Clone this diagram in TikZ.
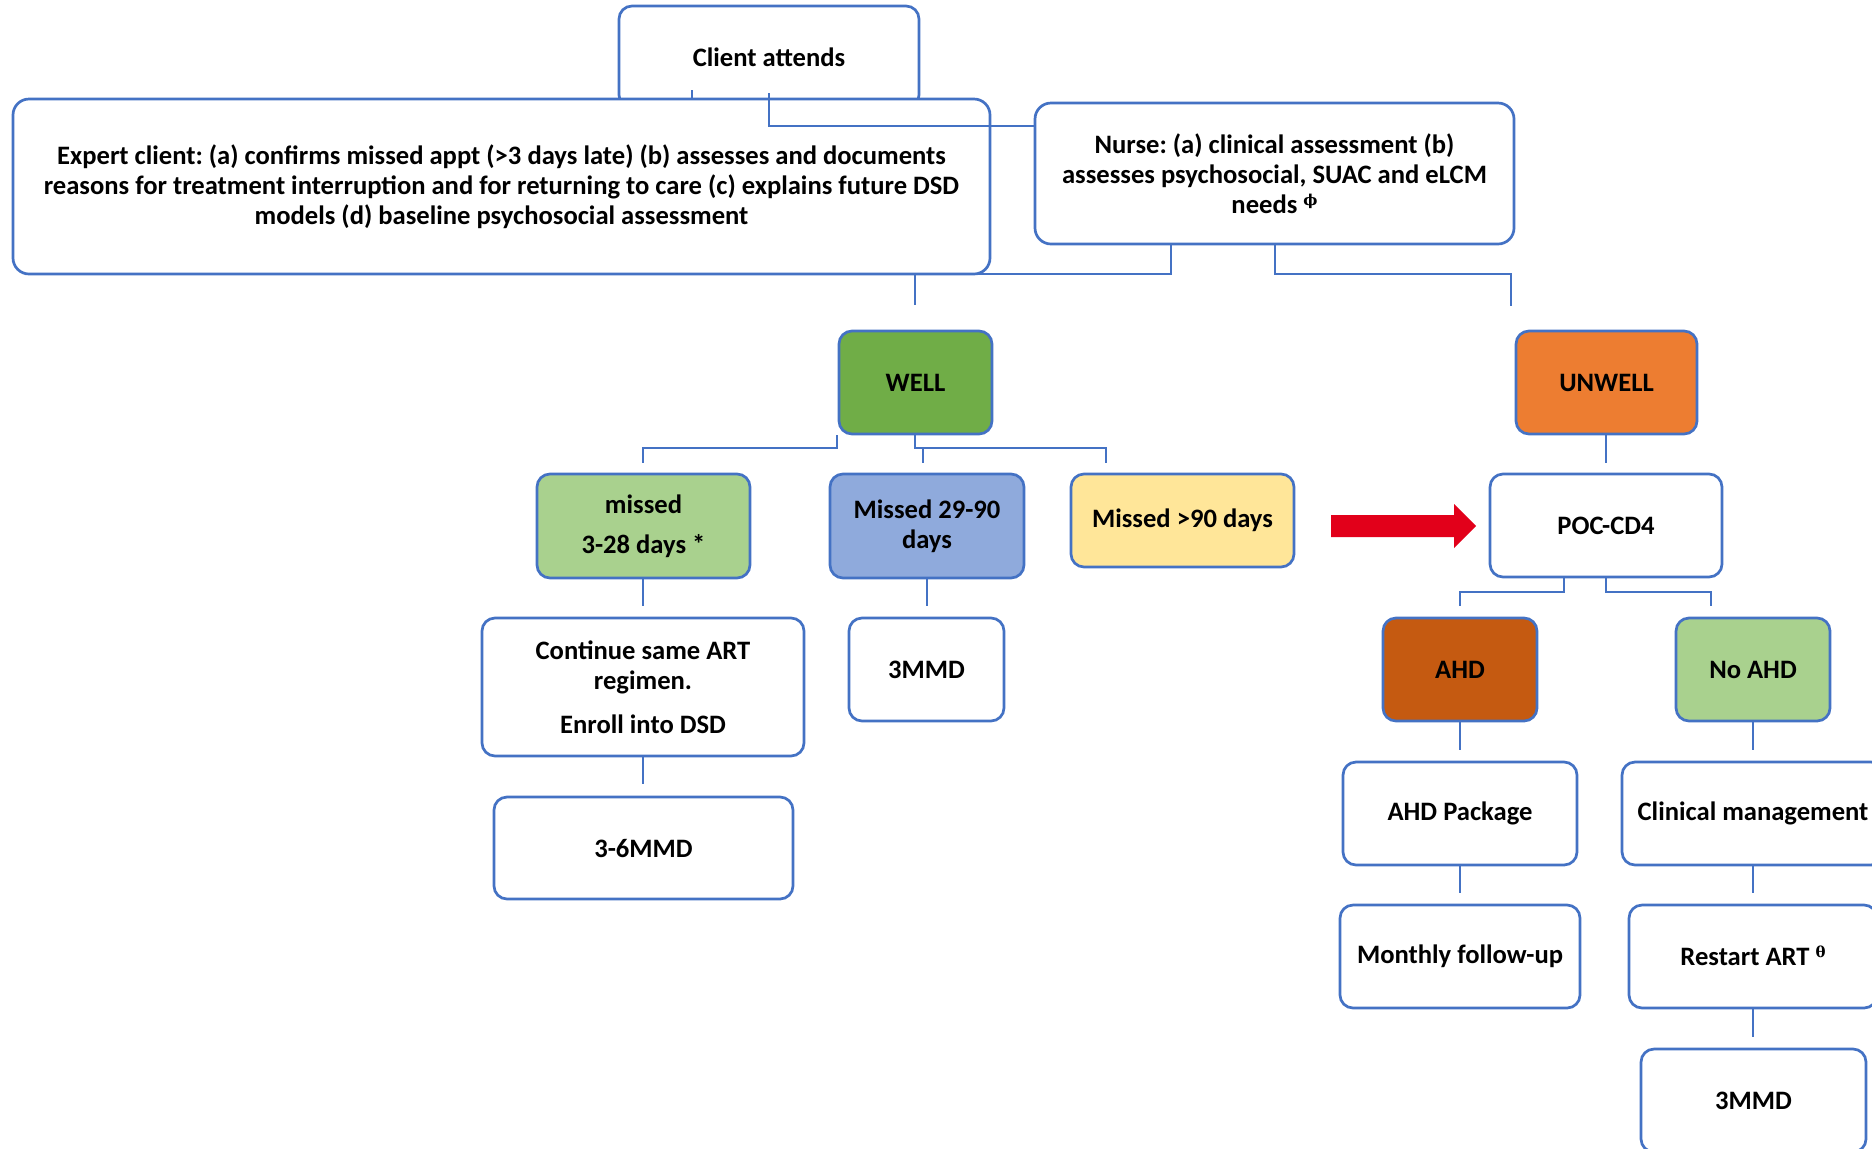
\documentclass[tikz,border=0pt]{standalone}
\usepackage{fontspec}
\setmainfont{Carlito}
\newfontfamily\symserif{DejaVu Serif}
\definecolor{lineblue}{HTML}{4472C4}
\definecolor{wellgreen}{HTML}{70AD47}
\definecolor{unwellorange}{HTML}{ED7D31}
\definecolor{lightgreen}{HTML}{A9D18E}
\definecolor{lightblue}{HTML}{8FAADC}
\definecolor{paleyellow}{HTML}{FFE699}
\definecolor{ahdbrown}{HTML}{C55A11}
\definecolor{arrowred}{HTML}{E2001A}
\newcommand\boxfont{\frenchspacing\fontsize{13.3pt}{15pt}\selectfont\bfseries}
\newcommand\supsym[1]{\smash{\raisebox{0.3em}{\fontsize{7.5pt}{8pt}\selectfont\symserif #1}}}
\tikzset{
  bx/.style={draw=lineblue, line width=1.35pt, rounded corners=6.5pt, fill=white,
    align=center, font=\boxfont, text=black, inner sep=0pt},
  cn/.style={draw=lineblue, line width=1.35pt},
}
\begin{document}
\begin{tikzpicture}[x=0.5pt,y=-0.5pt]
\useasboundingbox (0,0) rectangle (1872,1148);
\clip (0,0) rectangle (1872,1148);

% top boxes
\node[bx, minimum width=150pt, minimum height=51pt] (client) at (769,57) {Client attends};
\node[bx, rounded corners=8pt, minimum width=488.5pt, minimum height=87.5pt] (expert) at (501.5,186.5)
  {Expert client: (a) confirms missed appt (>3 days late) (b) assesses and documents\\
   reasons for treatment interruption and for returning to care (c) explains future DSD\\
   models (d) baseline psychosocial assessment};
\node[bx, rounded corners=8pt, minimum width=239.5pt, minimum height=70.5pt] (nurse) at (1274.5,173.5)
  {Nurse: (a) clinical assessment (b)\\ assesses psychosocial, SUAC and eLCM\\ needs \supsym{ϕ}};

% client connectors
\coordinate (t1) at (692,90);
\draw[cn] (t1) -- (t1 |- expert.north);
\coordinate (c1) at (769,93);
\draw[cn] (c1) -- (769,126) -- (nurse.west |- 0,126);

% level 2
\node[bx, fill=wellgreen, minimum width=76.5pt, minimum height=51.5pt] (well) at (915.5,382.5) {WELL};
\node[bx, fill=unwellorange, minimum width=90.5pt, minimum height=51.5pt] (unwell) at (1606.5,382.5) {UNWELL};

\draw[cn] (nurse.south -| 1171,0) -- (1171,274) -- (915,274) -- (915,305);
\draw[cn] (nurse.south -| 1275,0) -- (1275,274) -- (1511,274) -- (1511,306);

% level 3
\node[bx, fill=lightgreen, minimum width=106.5pt, minimum height=52pt] (missed) at (643.5,526) {missed\\[5pt] 3-28 days *};
\node[bx, fill=lightblue, minimum width=97pt, minimum height=52pt] (m2990) at (927,526) {Missed 29-90\\ days};
\node[bx, fill=paleyellow, minimum width=111.5pt, minimum height=46.5pt] (m90) at (1182.5,520.5) {Missed >90 days};
\node[bx, minimum width=116pt, minimum height=51.5pt] (poc) at (1606,525.5) {POC-CD4};

\draw[cn] (well.south -| 837,0) -- (837,448) -- (643,448) -- (643,463);
\draw[cn] (well.south -| 915,0) -- (915,448) -- (1106,448) -- (1106,463);
\draw[cn] (923,448) -- (923,463);
\draw[cn] (unwell.south -| 1606,0) -- (1606,463);

% red block arrow
\fill[arrowred] (1331,515) -- (1454,515) -- (1454,504) -- (1476,526) -- (1454,548) -- (1454,537) -- (1331,537) -- cycle;

% level 4
\node[bx, minimum width=161pt, minimum height=69pt] (cont) at (643,687) {Continue same ART\\ regimen.\\[7pt] Enroll into DSD};
\node[bx, minimum width=77.5pt, minimum height=51.5pt] (mmd3a) at (926.5,669.5) {3MMD};
\node[bx, fill=ahdbrown, minimum width=77pt, minimum height=51.5pt] (ahd) at (1460,669.5) {AHD};
\node[bx, fill=lightgreen, minimum width=77pt, minimum height=51.5pt] (noahd) at (1753,669.5) {No AHD};

\draw[cn] (missed.south -| 643,0) -- (643,606);
\draw[cn] (m2990.south -| 927,0) -- (927,606);
\draw[cn] (poc.south -| 1564,0) -- (1564,592) -- (1460,592) -- (1460,606);
\draw[cn] (poc.south -| 1606,0) -- (1606,592) -- (1711,592) -- (1711,606);

% level 5+
\node[bx, minimum width=149.5pt, minimum height=51pt] (mmd36) at (643.5,848) {3-6MMD};
\node[bx, minimum width=117pt, minimum height=51.5pt] (ahdpkg) at (1460,813.5) {AHD Package};
\node[bx, minimum width=131pt, minimum height=51.5pt] (clin) at (1753,813.5) {Clinical management};
\node[bx, minimum width=120pt, minimum height=51.5pt] (mfu) at (1460,956.5) {Monthly follow-up};
\node[bx, minimum width=124pt, minimum height=51.5pt] (restart) at (1753,956.5) {Restart ART \supsym{θ}};
\node[bx, minimum width=112.5pt, minimum height=51.5pt] (mmd3b) at (1753.5,1100.5) {3MMD};

\draw[cn] (cont.south) -- (643,784);
\draw[cn] (ahd.south) -- (1460,750);
\draw[cn] (noahd.south) -- (1753,750);
\draw[cn] (ahdpkg.south) -- (1460,893);
\draw[cn] (clin.south) -- (1753,893);
\draw[cn] (restart.south) -- (1753,1037);
\end{tikzpicture}
\end{document}
